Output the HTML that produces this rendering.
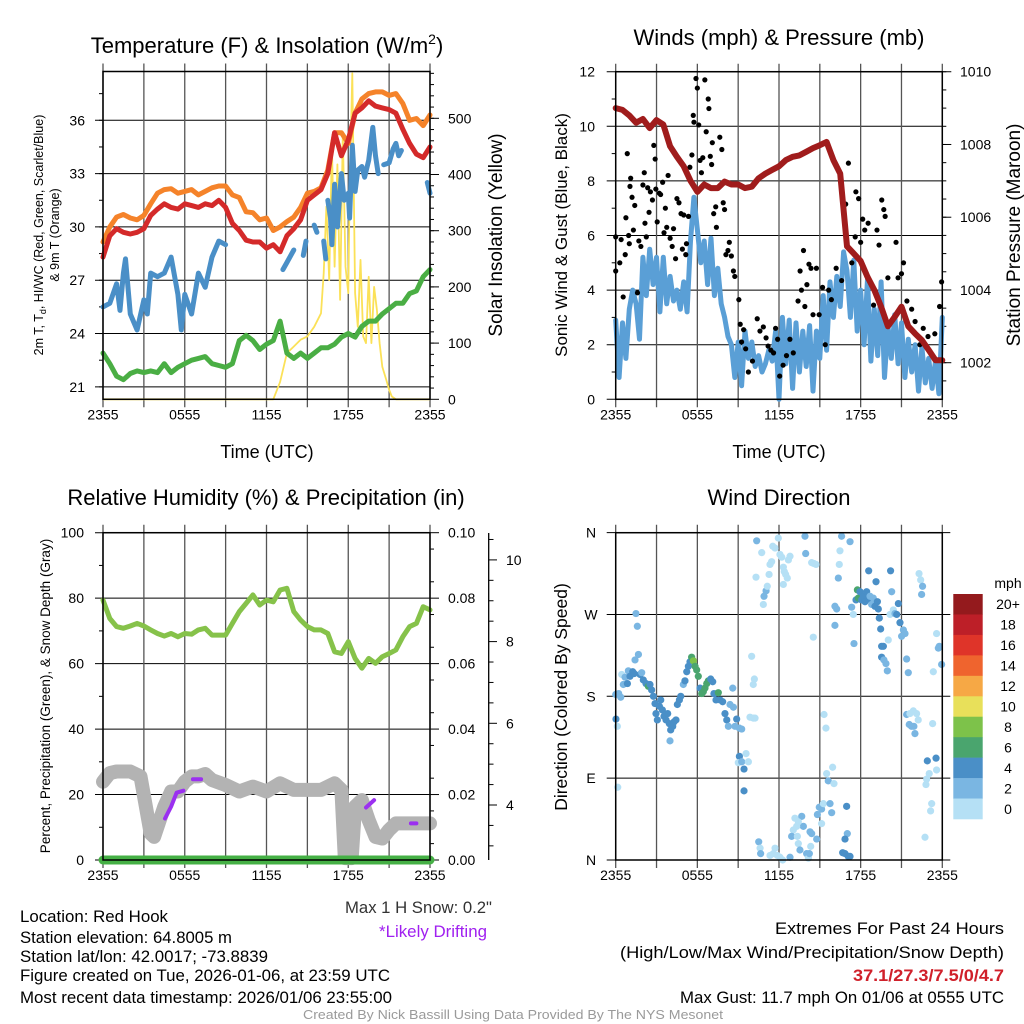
<!DOCTYPE html>
<html><head><meta charset="utf-8"><title>Mesonet Station Meteogram</title>
<style>
html,body{margin:0;padding:0;background:#fff;}
svg{display:block;font-family:"Liberation Sans",Arial,sans-serif;}
</style></head>
<body>
<svg id="chart" width="1024" height="1024" viewBox="0 0 1024 1024" xmlns="http://www.w3.org/2000/svg">
<rect x="0" y="0" width="1024" height="1024" fill="#fff"/>
<text x="267" y="53" font-size="22" text-anchor="middle">Temperature (F) &amp; Insolation (W/m<tspan font-size="14" dy="-9">2</tspan><tspan dy="9">)</tspan></text>
<text x="779" y="45" font-size="22" text-anchor="middle">Winds (mph) &amp; Pressure (mb)</text>
<text x="266" y="505" font-size="22" text-anchor="middle">Relative Humidity (%) &amp; Precipitation (in)</text>
<text x="779" y="505" font-size="22" text-anchor="middle">Wind Direction</text>
<text x="267" y="458" font-size="18" text-anchor="middle">Time (UTC)</text>
<text x="779" y="458" font-size="18" text-anchor="middle">Time (UTC)</text>
<text transform="translate(43,235) rotate(-90)" font-size="12.5" text-anchor="middle">2m T, T<tspan font-size="9" dy="3">d</tspan><tspan dy="-3">, HI/WC (Red, Green, Scarlet/Blue)</tspan></text>
<text transform="translate(59,235) rotate(-90)" font-size="12.5" text-anchor="middle">&amp; 9m T (Orange)</text>
<text transform="translate(502,235) rotate(-90)" font-size="19" text-anchor="middle">Solar Insolation (Yellow)</text>
<text transform="translate(567,235) rotate(-90)" font-size="17" text-anchor="middle">Sonic Wind &amp; Gust (Blue, Black)</text>
<text transform="translate(1020,235) rotate(-90)" font-size="19" text-anchor="middle">Station Pressure (Maroon)</text>
<text transform="translate(50,696) rotate(-90)" font-size="13.5" text-anchor="middle">Percent, Precipitation (Green), &amp; Snow Depth (Gray)</text>
<text transform="translate(567,697) rotate(-90)" font-size="17.5" text-anchor="middle">Direction (Colored By Speed)</text>
<text x="492" y="913" font-size="16.5" text-anchor="end" fill="#333" textLength="147" lengthAdjust="spacingAndGlyphs">Max 1 H Snow: 0.2"</text>
<text x="487" y="937" font-size="16.5" text-anchor="end" fill="#a020f0" textLength="108" lengthAdjust="spacingAndGlyphs">*Likely Drifting</text>
<text x="20" y="922" font-size="16.5" textLength="148" lengthAdjust="spacingAndGlyphs">Location: Red Hook</text>
<text x="20" y="943" font-size="16.5" textLength="212" lengthAdjust="spacingAndGlyphs">Station elevation: 64.8005 m</text>
<text x="20" y="962" font-size="16.5" textLength="248" lengthAdjust="spacingAndGlyphs">Station lat/lon: 42.0017; -73.8839</text>
<text x="20" y="981" font-size="16.5" textLength="370" lengthAdjust="spacingAndGlyphs">Figure created on Tue, 2026-01-06, at 23:59 UTC</text>
<text x="20" y="1003" font-size="16.5" textLength="372" lengthAdjust="spacingAndGlyphs">Most recent data timestamp: 2026/01/06 23:55:00</text>
<text x="1004" y="934" font-size="16.5" text-anchor="end" textLength="229" lengthAdjust="spacingAndGlyphs">Extremes For Past 24 Hours</text>
<text x="1004" y="958" font-size="16.5" text-anchor="end" textLength="384" lengthAdjust="spacingAndGlyphs">(High/Low/Max Wind/Precipitation/Snow Depth)</text>
<text x="1004" y="981" font-size="16.5" font-weight="bold" fill="#d0202a" text-anchor="end" textLength="151" lengthAdjust="spacingAndGlyphs">37.1/27.3/7.5/0/4.7</text>
<text x="1004" y="1003" font-size="16.5" text-anchor="end" textLength="324" lengthAdjust="spacingAndGlyphs">Max Gust: 11.7 mph On 01/06 at 0555 UTC</text>
<text x="513" y="1019" font-size="13" fill="#9a9a9a" text-anchor="middle" textLength="420" lengthAdjust="spacingAndGlyphs">Created By Nick Bassill Using Data Provided By The NYS Mesonet</text>
</svg>
<script>
// ===== data =====
const halfHours = []; for (let i = 0; i <= 48; i++) halfHours.push(i / 2);
const quarterHours = []; for (let i = 0; i <= 96; i++) quarterHours.push(i / 4);
const timeTickHours = [0, 6, 12, 18, 24];
const timeTickLabels = ['2355', '0555', '1155', '1755', '2355'];

const temp9m = [29.15,30.0,30.55,30.7,30.5,30.4,30.65,31.3,31.9,32.1,32.15,31.9,32.0,32.1,31.8,32.0,32.2,32.3,32.3,31.8,31.65,30.85,30.8,30.4,30.5,29.8,30.0,30.3,30.55,31.1,31.9,32.0,32.2,33.2,35.3,35.3,34.7,36.4,37.2,37.5,37.6,37.6,37.4,37.5,36.95,36.0,36.1,35.7,36.3];
const temp2m = [28.3,29.5,29.9,29.7,29.6,29.7,29.9,30.65,31.0,31.3,31.1,31.0,31.3,31.2,31.1,31.3,31.2,31.5,31.1,30.2,29.8,29.25,29.15,29.15,28.8,29.0,28.6,29.5,29.9,30.4,31.5,31.8,32.1,33.0,35.3,34.0,34.9,36.4,36.7,37.1,36.8,36.7,36.6,36.4,35.5,34.7,34.1,33.9,34.5];
const dewpoint = [22.9,22.3,21.6,21.4,21.75,21.9,21.8,21.9,21.8,22.3,21.8,22.1,22.3,22.5,22.6,22.7,22.3,22.2,22.1,22.3,23.6,23.9,23.6,23.1,23.4,23.6,24.7,22.9,22.6,22.9,22.6,22.9,23.2,23.2,23.4,23.8,24.0,23.8,24.4,24.7,24.7,25.1,25.4,25.7,25.7,26.25,26.4,27.2,27.6];
const windChillTime = [0,0.5,1,1.25,1.5,1.65,2,2.5,3,3.25,3.5,4,4.5,5,5.5,5.75,6,6.5,7,7.5,8,8.5,9,9.1,13.2,13.5,14,14.2,14.7,14.9,15.1,15.5,15.7,15.9,16.2,16.35,16.45,16.5,16.7,16.8,17,17.2,17.5,17.7,18,18.1,18.3,18.5,18.7,19,19.2,19.5,19.8,20,20.2,20.3,20.6,21,21.3,21.5,21.7,21.9,22,23.8,24];
const windChill = [25.5,25.7,26.8,25.3,27.4,28.2,25.1,24.2,25.9,25.1,27.4,27.2,27.4,28.3,26.2,24.2,26.2,25.1,27.4,26.6,28.3,29.2,29.0,null,27.6,28.0,28.7,null,28.4,29.2,null,30.1,29.7,null,29.2,28.2,null,31.5,30.5,29.0,32.4,30.0,33.0,31.5,31.9,30.5,34.6,32.0,33.2,33.4,32.8,33.75,35.6,34.0,33.0,null,33.5,33.6,34.4,34.7,34.0,34.3,null,32.5,31.9];
const solarTime = [0,12.5,13,13.5,14,14.5,15,15.5,16,16.2,16.4,16.6,16.8,17,17.2,17.4,17.6,17.8,18,18.1,18.3,18.5,18.7,18.9,19.1,19.3,19.5,19.7,19.9,20.1,20.3,20.5,20.8,21,21.2,21.5,24];
const solar = [0,0,31,82,94,106,112,129,153,224,343,212,450,236,418,177,473,236,189,366,580,189,129,248,112,100,218,100,200,159,100,58,34,17,5,0,0];
const tempTicks = [21,24,27,30,33,36];
const solarTicks = [0,100,200,300,400,500];

const pressure = [1009.0,1008.95,1008.8,1008.6,1008.7,1008.45,1008.67,1008.55,1007.95,1007.66,1007.4,1007.0,1006.7,1006.9,1006.8,1006.8,1006.98,1006.9,1006.9,1006.8,1006.84,1007.07,1007.2,1007.3,1007.4,1007.57,1007.66,1007.7,1007.8,1007.9,1007.98,1008.07,1007.57,1007.2,1005.2,1005.0,1004.8,1004.36,1004.0,1003.54,1003.0,1003.26,1003.54,1003.0,1002.8,1002.62,1002.35,1002.07,1002.07];
const windSpeed = [2.9,0.8,2.8,1.5,3.3,4.0,3.5,2.2,5.2,3.8,5.5,4.2,5.2,3.2,5.2,3.5,4.5,3.6,4.0,3.3,4.3,3.2,5.8,7.4,6.2,5.0,5.8,4.2,5.9,3.8,4.8,3.5,3.0,2.3,2.0,0.8,2.1,0.5,2.5,1.5,2.1,1.2,1.6,1.0,1.3,1.8,1.4,2.5,0.0,3.0,1.3,2.9,0.4,2.8,1.0,2.5,1.2,2.7,0.3,2.5,1.5,3.8,1.8,4.3,3.0,4.5,3.4,5.4,4.7,3.0,5.1,2.5,4.0,2.0,4.4,1.4,3.3,1.6,4.3,0.8,2.7,1.5,3.1,1.3,2.8,0.8,2.2,1.0,2.0,0.3,1.9,0.6,1.5,0.4,1.4,0.2,3.0];
const gustTime = [0,0,0.3,0.4,0.55,0.7,0.75,0.85,0.95,1.0,1.05,1.1,1.2,1.3,1.4,1.6,1.7,1.85,2.0,2.1,2.15,2.25,2.35,2.45,2.55,2.7,2.8,2.9,2.95,3.05,3.2,3.3,3.45,3.55,3.65,3.75,3.85,4.0,4.15,4.25,4.4,4.5,4.65,4.8,4.9,5.0,5.15,5.2,5.35,5.45,5.6,5.7,5.75,5.9,6.0,6.1,6.2,6.3,6.4,6.55,6.65,6.8,6.85,6.95,7.05,7.1,7.2,7.35,7.4,7.65,7.8,7.9,8.0,8.1,8.25,8.35,8.5,8.65,8.75,9.05,9.15,9.25,9.4,9.55,9.75,10.05,10.4,10.6,10.85,11.05,11.2,11.4,11.6,11.75,11.9,12.05,12.3,12.55,12.8,13.05,13.4,13.55,13.65,13.8,13.9,14.05,14.2,14.35,14.5,14.75,14.95,15.2,15.4,15.65,15.85,16.2,16.6,17.1,16.9,17.35,17.65,17.85,17.6,18.0,18.15,18.3,18.55,18.95,19.2,19.35,19.55,19.7,19.8,20.0,20.35,20.6,20.75,21.0,21.15,21.4,21.75,22.0,22.35,22.6,22.95,23.45,23.8,23.95];
const gust = [4.7,5.95,5.0,5.85,3.75,5.3,6.65,9.0,6.0,5.7,7.8,8.1,7.4,6.2,7.1,3.9,5.8,5.6,7.85,8.3,6.45,5.95,7.75,6.85,7.6,7.3,9.3,8.8,7.7,6.5,7.55,7.5,7.95,6.1,7.0,6.3,8.2,5.9,5.6,6.25,5.15,7.35,7.2,6.8,5.5,6.75,5.3,5.7,6.7,8.5,8.95,10.4,10.15,11.75,11.4,10.05,8.75,8.3,8.85,11.7,9.8,11.0,10.65,8.9,8.6,9.4,6.8,7.05,6.3,9.6,9.15,7.2,6.95,5.3,5.45,5.75,5.25,4.7,4.5,3.65,2.75,2.1,2.55,1.85,1.0,1.4,2.95,2.5,2.65,2.25,1.95,1.8,1.7,2.6,2.2,0.85,1.25,1.6,2.2,1.7,3.6,4.7,4.0,5.45,3.4,4.2,4.95,4.8,3.1,4.8,3.1,4.1,2.0,4.0,3.65,4.8,4.35,8.65,7.15,5.0,7.6,7.35,5.95,5.75,6.6,6.2,6.45,3.45,6.2,5.65,7.3,6.95,6.7,4.45,2.9,5.75,4.45,4.6,5.0,3.6,3.3,2.85,2.0,2.6,2.3,2.4,3.4,4.3];
const windTicks = [0,2,4,6,8,10,12];
const pressureTicks = [1002,1004,1006,1008,1010];

const humidity = [79.4,73.8,71.3,70.8,71.5,72.3,71.5,70.3,69.2,68.4,69.2,68.2,69.2,69.0,70.3,70.8,68.7,68.7,68.7,72.3,75.9,78.4,81.0,77.9,79.4,78.9,82.5,83.0,75.9,73.3,71.3,70.3,70.3,69.2,63.6,63.1,66.7,61.6,58.6,61.6,60.1,62.1,63.1,64.2,68.2,71.3,72.3,77.4,76.4];
const precipTime = [0,6,12,18,24];
const precip = [0,0,0,0,0];
const snowTime = [0,0.5,1,2,2.75,3.5,3.75,4.5,5,5.5,6,6.5,7,7.5,8,9,10,11,12,13,14,15,16,17,17.5,17.75,18.25,18.5,19,19.5,20,20.5,21,21.5,22,23,24];
const snowDepth = [4.57,4.78,4.82,4.82,4.70,3.30,3.22,3.96,4.33,4.33,4.57,4.70,4.70,4.76,4.61,4.49,4.33,4.45,4.33,4.53,4.37,4.37,4.37,4.53,4.37,2.7,2.7,3.96,4.12,3.63,3.22,3.18,3.39,3.55,3.55,3.55,3.55];
const driftTime = [4.55,5.0,5.4,5.9,null,6.6,7.2,null,19.3,19.9,null,22.6,23.0];
const driftDepth = [3.67,3.96,4.30,4.35,null,4.63,4.63,null,3.94,4.12,null,3.55,3.55];
const humidityTicks = [0,20,40,60,80,100];
const precipTicks = ['0.00','0.02','0.04','0.06','0.08','0.10'];
const snowTicks = [4,6,8,10];

const dirTime = [0,0.02,0.12,0.22,0.37,0.15,0.44,0.56,0.69,0.86,0.93,1.05,1.25,1.35,1.49,1.59,1.42,1.67,1.79,1.91,2.03,2.23,2.40,2.52,2.64,2.77,2.89,2.96,3.06,3.21,3.31,3.43,3.55,3.70,3.82,3.94,4.04,3.99,4.19,4.29,4.43,4.53,4.68,4.78,4.97,5.09,5.22,5.34,5.46,5.58,5.71,5.83,5.95,6.07,6.20,6.32,6.44,6.56,6.69,6.81,6.98,7.13,7.22,7.37,7.54,7.67,7.86,8.03,8.16,8.28,8.40,8.60,8.65,8.77,8.89,9.09,9.26,9.09,9.01,9.26,9.43,9.58,9.75,9.43,9.87,10.11,10.24,9.99,10.11,10.19,10.36,10.31,10.73,10.85,10.90,11.05,11.14,11.27,11.34,11.46,11.54,11.71,11.95,12.07,12.20,12.32,12.39,12.49,12.61,12.69,12.81,12.32,13.91,13.96,14.40,14.57,14.72,14.52,16.60,17.22,16.48,16.43,16.36,16.11,16.24,16.11,17.34,17.46,17.51,17.66,17.76,17.83,17.95,18.07,18.20,18.32,18.44,18.56,18.69,18.81,18.93,19.05,19.13,19.23,19.30,19.37,19.47,19.54,19.67,19.54,19.71,19.86,19.96,20.03,20.20,20.28,20.16,20.40,20.52,20.65,20.77,20.89,21.01,21.14,21.26,21.38,21.50,18.59,22.29,22.41,22.55,22.48,23.34,23.58,23.71,23.78,23.95,21.38,21.62,21.87,22.11,22.23,21.57,21.74,21.91,21.99,23.29,22.90,23.54,23.58,23.04,22.85,22.80,23.22,23.14,22.73,15.31,15.45,15.50,15.62,15.94,16.04,14.96,14.82,15.13,15.26,15.75,15.87,15.13,14.77,14.28,14.40,13.79,13.67,13.42,13.30,13.05,13.17,12.93,13.35,13.42,13.54,14.03,14.16,14.23,14.33,16.97,17.02,16.85,16.68,16.85,17.09,17.22,10.51,10.61,10.65,11.71,11.88,12.07,12.27,11.58,12.81,11.34];
const dirDeg = [182,155,147,183,179,80,204,193,201,194,208,202,207,205,271,257,220,226,204,206,198,194,191,193,187,180,172,161,154,169,176,165,158,154,161,150,143,131,147,152,154,171,176,180,193,197,207,213,218,223,219,213,209,202,189,183,185,189,194,197,199,196,183,176,184,176,174,161,154,147,171,189,168,147,155,145,144,114,107,108,100,117,108,76,157,156,156,224,193,199,351,311,338,281,290,296,301,314,325,328,345,343,354,336,333,322,317,314,310,330,334,303,356,337,327,326,325,245,356,350,340,325,310,279,276,258,278,270,238,286,297,288,295,286,290,284,295,287,290,281,288,279,306,284,276,266,254,235,235,223,220,216,208,242,318,295,270,275,271,270,282,261,246,253,249,221,206,318,315,308,301,292,207,249,233,235,215,160,161,164,161,154,149,147,147,139,150,109,112,99,95,89,83,62,54,25,160,145,95,87,102,84,58,50,56,62,62,52,40,23,31,29,37,48,42,37,33,46,26,26,18,11,7,2,7,15,59,29,23,8,7,4,4,20,13,7,13,5,3,0,7,3,5];
const dirSpeed = [3,5,1,3,3,1,1,3,3,5,3,5,5,5,3,3,3,3,5,3,5,5,7,5,5,5,5,5,5,5,5,5,5,5,5,5,5,3,5,5,5,5,5,5,3,5,5,5,5,7,9,7,7,7,5,7,7,7,7,7,5,5,5,5,7,5,5,5,5,3,3,3,3,3,5,3,3,5,1,3,5,1,1,5,1,1,1,1,1,1,3,1,1,1,3,3,1,1,1,1,1,1,1,1,1,1,1,1,1,1,1,1,3,3,1,1,1,1,3,3,1,1,3,3,3,3,3,1,3,5,7,7,5,5,5,5,5,5,3,3,3,5,5,5,5,5,5,5,5,5,3,3,3,1,5,3,1,1,3,5,5,5,3,3,3,3,3,5,1,1,3,3,1,1,3,3,3,3,1,1,1,1,3,3,3,3,1,5,5,1,1,1,1,1,1,1,1,1,1,3,1,1,3,3,3,1,3,3,1,3,3,3,3,3,1,1,1,1,3,1,1,3,3,1,3,1,5,3,5,5,5,5,5,3,1,3,1,1,1,1,1,3,1];
const dirTickDeg = [0,90,180,270,360];
const dirTickLabels = ['N','E','S','W','N'];
const speedBins = ['0','2','4','6','8','10','12','14','16','18','20+'];
const speedColors = ['#b5e0f5','#7ab6e2','#4a8fc7','#4aa56e','#7dc24a','#e8e05a','#f6a845','#ef642e','#df3429','#bd1f28','#941a1d'];

// ===== helpers =====
const NS = 'http://www.w3.org/2000/svg';
const svg = document.getElementById('chart');
function mk(tag, attrs, parent) {
  const e = document.createElementNS(NS, tag);
  for (const k in attrs) e.setAttribute(k, attrs[k]);
  (parent || svg).appendChild(e);
  return e;
}
function pathD(xs, ys, fx, fy) {
  let d = '', pen = false;
  for (let i = 0; i < xs.length; i++) {
    if (ys[i] === null || xs[i] === null) { pen = false; continue; }
    d += (pen ? 'L' : 'M') + fx(xs[i]).toFixed(1) + ' ' + fy(ys[i]).toFixed(1);
    pen = true;
  }
  return d;
}
function txt(x, y, s, size, anchor, parent) {
  const t = mk('text', {x: x, y: y, 'font-size': size, 'text-anchor': anchor}, parent);
  t.textContent = s;
  return t;
}

// ===== axes =====
const L = 103, R = 430, L2 = 615.7, R2 = 942.3;
const xT = t => L + t * (R - L) / 24;
const xW = t => L2 + t * (R2 - L2) / 24;
const yTemp = v => 120.3 + (36 - v) * 17.77;
const ySolar = v => 399.3 - v * 0.562;
const yWind = v => 399.3 - v * 27.3;
const yPres = v => 362.7 - (v - 1002) * 36.37;
const yRH = v => 860 - v * 3.273;
const yPrecip = v => 860 - v * 3273;
const ySnow = v => 805 - (v - 4) * 40.85;
const yDir = v => 860 - v * 0.9094;

function timeGrid(g, xf, top, bot, name) {
  for (let h = 0; h <= 24; h += 3) {
    const ln = mk('line', {x1: xf(h), x2: xf(h), y1: top - 8, y2: bot + 8, stroke: '#555', 'stroke-width': 1.3}, g);
    
    
  }
  for (let i = 0; i < timeTickHours.length; i++) {
    const t = txt(xf(timeTickHours[i]), bot + 20, timeTickLabels[i], 14, 'middle', g);
    
    
  }
}
function frame(g, x0, y0, x1, y1, name) {
  const r = mk('rect', {x: x0, y: y0, width: x1 - x0, height: y1 - y0, fill: 'none', stroke: '#000', 'stroke-width': 1.5}, g);
  
  
}
function hLine(g, y, x0, x1, w, name, col) {
  const ln = mk('line', {x1: x0, x2: x1, y1: y, y2: y, stroke: col || '#000', 'stroke-width': w}, g);
  
  
}

// ===== Panel 1: temperature =====
const p1 = mk('g', {});


for (const v of tempTicks) {
  hLine(p1, yTemp(v), L - 8, R, 1, 'temp-hgrid');
  const t = txt(85, yTemp(v) + 5, String(v), 14, 'end', p1);
  
  
}
for (let v = 19.5; v <= 40.5; v += 1.5) { if (yTemp(v) > 72 && yTemp(v) < 399) hLine(p1, yTemp(v), L - 4, L, 1, 'temp-minor-tick'); }
for (const v of solarTicks) {
  hLine(p1, ySolar(v), R, R + 9, 1, 'solar-major-tick');
  const t = txt(448, ySolar(v) + 5, String(v), 14, 'start', p1);
  
  
}
for (let v = 20; v <= 580; v += 20) hLine(p1, ySolar(v), R, R + 4, 1, 'solar-minor-tick');
timeGrid(p1, xT, 71.5, 399.3, 'temp');
const yl = mk('path', {d: pathD(solarTime, solar, xT, ySolar), fill: 'none', stroke: '#fbe158', 'stroke-width': 1.8, 'stroke-linejoin': 'round'}, p1);


const gl = mk('path', {d: pathD(halfHours, dewpoint, xT, yTemp), fill: 'none', stroke: '#4aae44', 'stroke-width': 5, 'stroke-linejoin': 'round', 'stroke-linecap': 'round'}, p1);


const bl = mk('path', {d: pathD(windChillTime, windChill, xT, yTemp), fill: 'none', stroke: '#4a8fc7', 'stroke-width': 5, 'stroke-linejoin': 'round', 'stroke-linecap': 'round'}, p1);


const ol = mk('path', {d: pathD(halfHours, temp9m, xT, yTemp), fill: 'none', stroke: '#f5832a', 'stroke-width': 5, 'stroke-linejoin': 'round', 'stroke-linecap': 'round'}, p1);


const rl = mk('path', {d: pathD(halfHours, temp2m, xT, yTemp), fill: 'none', stroke: '#d42a2a', 'stroke-width': 5, 'stroke-linejoin': 'round', 'stroke-linecap': 'round'}, p1);


frame(p1, L, 71.5, R, 399.3, 'temp');

// ===== Panel 2: wind & pressure =====
const p2 = mk('g', {});


for (const v of windTicks) {
  hLine(p2, yWind(v), L2 - 9, R2, 1, 'wind-hgrid');
  const t = txt(595, yWind(v) + 5, String(v), 14, 'end', p2);
  
  
}
for (let v = 1; v < 12; v += 2) hLine(p2, yWind(v), L2 - 4, L2, 1, 'wind-minor-tick');
for (const v of pressureTicks) {
  hLine(p2, yPres(v), R2, R2 + 9, 1, 'pressure-major-tick');
  const t = txt(960, yPres(v) + 5, String(v), 14, 'start', p2);
  
  
}
for (let v = 1001.5; v <= 1010; v += 0.5) { if (yPres(v) < 399) hLine(p2, yPres(v), R2, R2 + 4, 1, 'pressure-minor-tick'); }
timeGrid(p2, xW, 71.7, 399.3, 'wind');
const wl = mk('path', {d: pathD(quarterHours, windSpeed, xW, yWind), fill: 'none', stroke: '#5a9fd6', 'stroke-width': 5, 'stroke-linejoin': 'round', 'stroke-linecap': 'round'}, p2);


for (let i = 0; i < gust.length; i++) {
  const c = mk('circle', {cx: xW(gustTime[i]), cy: yWind(gust[i]), r: 2.6, fill: '#000'}, p2);
  
  
}
const pl = mk('path', {d: pathD(halfHours, pressure, xW, yPres), fill: 'none', stroke: '#a01c1c', 'stroke-width': 6, 'stroke-linejoin': 'round', 'stroke-linecap': 'round'}, p2);


frame(p2, L2, 71.7, R2, 399.3, 'wind');

// ===== Panel 3: humidity =====
const p3 = mk('g', {});


for (const v of humidityTicks) {
  hLine(p3, yRH(v), L - 8, R, 1, 'humidity-hgrid');
  const t = txt(84, yRH(v) + 5, String(v), 14, 'end', p3);
  
  
}
for (let v = 10; v < 100; v += 20) hLine(p3, yRH(v), L - 4, L, 1, 'humidity-minor-tick');
for (let i = 0; i < precipTicks.length; i++) {
  const v = parseFloat(precipTicks[i]);
  hLine(p3, yPrecip(v), R, R + 9, 1, 'precip-major-tick');
  const t = txt(448, yPrecip(v) + 5, precipTicks[i], 14, 'start', p3);
  
  
}
for (let v = 0.005; v < 0.1; v += 0.01) hLine(p3, yPrecip(v), R, R + 4, 1, 'precip-minor-tick');
const sax = mk('line', {x1: 488.7, x2: 488.7, y1: 533, y2: 860, stroke: '#000', 'stroke-width': 1.3}, p3);


for (const v of snowTicks) {
  hLine(p3, ySnow(v), 488.7, 497, 1, 'snow-major-tick');
  const t = txt(506, ySnow(v) + 5, String(v), 14, 'start', p3);
  
  
}
for (let v = 3; v <= 10.5; v += 0.5) { if (ySnow(v) > 534 && ySnow(v) < 859 && v % 2 !== 0) hLine(p3, ySnow(v), 488.7, 493.5, 1, 'snow-minor-tick'); }
timeGrid(p3, xT, 532.7, 860, 'humidity');
const sl = mk('path', {d: pathD(snowTime, snowDepth, xT, ySnow), fill: 'none', stroke: '#b3b3b3', 'stroke-width': 14, 'stroke-linejoin': 'round', 'stroke-linecap': 'round'}, p3);


const dl = mk('path', {d: pathD(driftTime, driftDepth, xT, ySnow), fill: 'none', stroke: '#9b30f0', 'stroke-width': 4, 'stroke-linejoin': 'round', 'stroke-linecap': 'round'}, p3);


const hl = mk('path', {d: pathD(halfHours, humidity, xT, yRH), fill: 'none', stroke: '#86c24a', 'stroke-width': 5, 'stroke-linejoin': 'round', 'stroke-linecap': 'round'}, p3);


const prl = mk('path', {d: pathD(precipTime, precip, xT, yPrecip), fill: 'none', stroke: '#45b045', 'stroke-width': 9, 'stroke-linecap': 'round'}, p3);


frame(p3, L, 532.7, R, 860, 'humidity');

// ===== Panel 4: wind direction =====
const p4 = mk('g', {});


for (let i = 0; i < dirTickDeg.length; i++) {
  hLine(p4, yDir(dirTickDeg[i]), L2 - 9, R2 + 8, 1, 'direction-hgrid');
  const t = txt(591, yDir(dirTickDeg[i]) + 5, dirTickLabels[i], 14, 'middle', p4);
  
  
}
timeGrid(p4, xW, 532.7, 860, 'direction');
for (let i = 0; i < dirDeg.length; i++) {
  const bin = Math.min(10, Math.floor(dirSpeed[i] / 2));
  const c = mk('circle', {cx: xW(dirTime[i]), cy: yDir(dirDeg[i]), r: 3.6, fill: speedColors[bin]}, p4);
  
  
}
frame(p4, L2, 532.7, R2, 860, 'direction');

// colorbar
const cb = mk('g', {});


const mph = txt(1008, 588, 'mph', 14, 'middle', cb);


const binH = 225 / speedBins.length;
for (let i = 0; i < speedBins.length; i++) {
  const idx = speedBins.length - 1 - i;
  const y = 594 + i * binH;
  const r = mk('rect', {x: 953.3, y: y, width: 29.4, height: binH + 0.3, fill: speedColors[idx]}, cb);
  
  
  const t = txt(1008, y + binH / 2 + 5, speedBins[idx], 14, 'middle', cb);
  
  
}
</script>
</body></html>
